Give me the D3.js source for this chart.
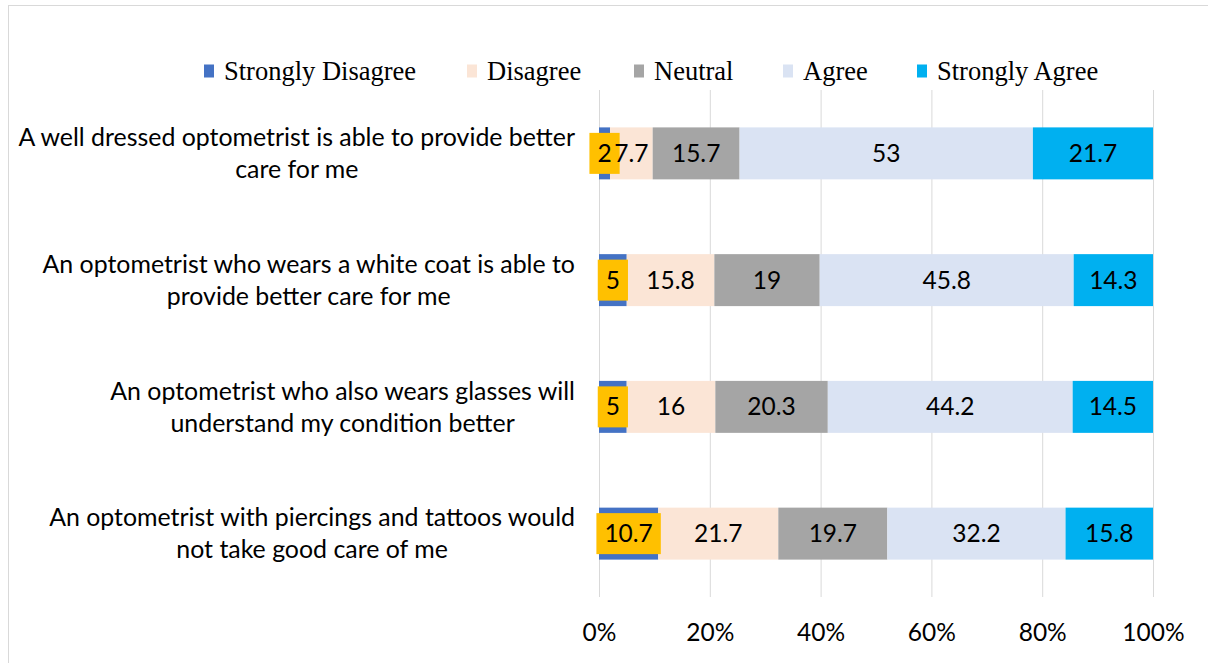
<!DOCTYPE html>
<html>
<head>
<meta charset="utf-8">
<script src="https://cdn.jsdelivr.net/npm/d3@7"></script>
<style>
  body { margin: 0; background: #fff; }
</style>
</head>
<body>
<div id="hook-chart"></div>
<script>
'use strict';

(function() {

var categories = [
  ['A well dressed optometrist is able to provide better', 'care for me'],
  ['An optometrist who wears a white coat is able to', 'provide better care for me'],
  ['An optometrist who also wears glasses will', 'understand my condition better'],
  ['An optometrist with piercings and tattoos would', 'not take good care of me']
];
var series = ['Strongly Disagree', 'Disagree', 'Neutral', 'Agree', 'Strongly Agree'];
var stronglyDisagree = [2, 5, 5, 10.7];
var disagree = [7.7, 15.8, 16, 21.7];
var neutral = [15.7, 19, 20.3, 19.7];
var agree = [53, 45.8, 44.2, 32.2];
var stronglyAgree = [21.7, 14.3, 14.5, 15.8];
var tickLabels = ['0%', '20%', '40%', '60%', '80%', '100%'];

var colors = ['#4472C4', '#FBE5D6', '#A5A5A5', '#DAE3F3', '#00B0F0'];

var options = {
  width: 1208,
  height: 663,
  left: 599,
  right: 1153,
  top: 90,
  bottom: 597,
  sans: 'Lato, "Open Sans", sans-serif',
  serif: '"Liberation Serif", "Times New Roman", serif',
  fontSize: 24.5
};

function update(options) {

  var svg = d3.select('#hook-chart')
    .append('svg')
    .attr('width', options.width)
    .attr('height', options.height);

  // chart frame
  svg.append('rect')
    .attr('x', 8.5)
    .attr('y', 5.5)
    .attr('width', options.width + 10)
    .attr('height', options.height + 10)
    .style('fill', 'none')
    .style('stroke', '#D9D9D9')
    .style('stroke-width', 1);

  var allSeries = [stronglyDisagree, disagree, neutral, agree, stronglyAgree];
  var rows = categories.map(function(c, i) {
    var vals = allSeries.map(function(s) { return s[i]; });
    var total = d3.sum(vals);
    var acc = 0;
    return vals.map(function(v, k) {
      var seg = { row: i, k: k, value: v, x0: acc / total * 100, x1: (acc + v) / total * 100 };
      acc += v;
      return seg;
    });
  });

  var x = d3.scaleLinear()
    .domain([0, 100])
    .range([options.left, options.right]);

  var y = d3.scaleBand()
    .domain(d3.range(categories.length))
    .range([options.top, options.bottom])
    .paddingInner(0.59)
    .paddingOuter(0.295);

  // gridlines
  svg.append('g')
    .selectAll('line')
    .data(d3.range(0, 101, 20))
    .enter()
    .append('line')
    .attr('x1', function(d) { return x(d) + 0.5; })
    .attr('x2', function(d) { return x(d) + 0.5; })
    .attr('y1', options.top)
    .attr('y2', options.bottom)
    .style('stroke', '#D9D9D9')
    .style('stroke-width', 1);

  // x axis labels
  var xAxis = d3.axisBottom(x)
    .tickValues(d3.range(0, 101, 20))
    .tickFormat(function(d, i) { return tickLabels[i]; })
    .tickSize(0)
    .tickPadding(27);

  var ax = svg.append('g')
    .attr('transform', 'translate(0,' + options.bottom + ')')
    .call(xAxis);
  ax.select('.domain').remove();
  ax.selectAll('text')
    .style('font-family', options.sans)
    .style('font-size', options.fontSize + 'px')
    .style('fill', '#000');

  // bars
  var segs = d3.merge(rows);
  svg.append('g')
    .selectAll('rect')
    .data(segs)
    .enter()
    .append('rect')
    .attr('x', function(d) { return x(d.x0); })
    .attr('y', function(d) { return y(d.row); })
    .attr('width', function(d) { return x(d.x1) - x(d.x0); })
    .attr('height', y.bandwidth())
    .style('fill', function(d) { return colors[d.k]; });

  // data labels
  var lab = svg.append('g')
    .selectAll('g')
    .data(segs)
    .enter()
    .append('g')
    .attr('transform', function(d) {
      return 'translate(' + ((x(d.x0) + x(d.x1)) / 2) + ',' + (y(d.row) + y.bandwidth() / 2) + ')';
    });

  lab.filter(function(d) { return d.k === 0; })
    .append('rect')
    .attr('class', 'lbox');

  lab.append('text')
    .attr('text-anchor', 'middle')
    .attr('dy', '0.35em')
    .style('font-family', options.sans)
    .style('font-size', options.fontSize + 'px')
    .style('fill', '#000')
    .text(function(d) { return d.value; });

  lab.selectAll('rect.lbox')
    .each(function() {
      var t = this.parentNode.querySelector('text').getBBox();
      d3.select(this)
        .attr('x', t.x - 8)
        .attr('y', -20.5)
        .attr('width', t.width + 16)
        .attr('height', 41)
        .style('fill', '#FFC000');
    });

  // category labels (lines centred on each other, block right aligned)
  var catG = svg.append('g')
    .selectAll('g')
    .data(categories)
    .enter()
    .append('g')
    .attr('transform', function(d, i) { return 'translate(0,' + (y(i) + y.bandwidth() / 2) + ')'; });

  catG.each(function(d) {
    var g = d3.select(this);
    var texts = g.selectAll('text')
      .data(d)
      .enter()
      .append('text')
      .attr('text-anchor', 'middle')
      .attr('y', function(t, i) { return i === 0 ? -16 : 16; })
      .attr('dy', '0.35em')
      .style('font-family', options.sans)
      .style('font-size', '24.9px')
      .style('fill', '#000')
      .text(function(t) { return t; });
    var w = d3.max(texts.nodes(), function(n) { return n.getComputedTextLength(); });
    texts.attr('x', 575 - w / 2);
  });

  // legend
  var legendX = [204, 467, 634, 783, 917];
  var leg = svg.append('g')
    .selectAll('g')
    .data(series)
    .enter()
    .append('g')
    .attr('transform', function(d, i) { return 'translate(' + legendX[i] + ',71)'; });

  leg.append('rect')
    .attr('x', 0)
    .attr('y', -6.5)
    .attr('width', 10)
    .attr('height', 13)
    .style('fill', function(d, i) { return colors[i]; });

  leg.append('text')
    .attr('x', 20)
    .attr('dy', '0.33em')
    .style('font-family', options.serif)
    .style('font-size', '26.5px')
    .style('fill', '#000')
    .text(function(d) { return d; });
}

update(options);

}());
</script>
</body>
</html>
